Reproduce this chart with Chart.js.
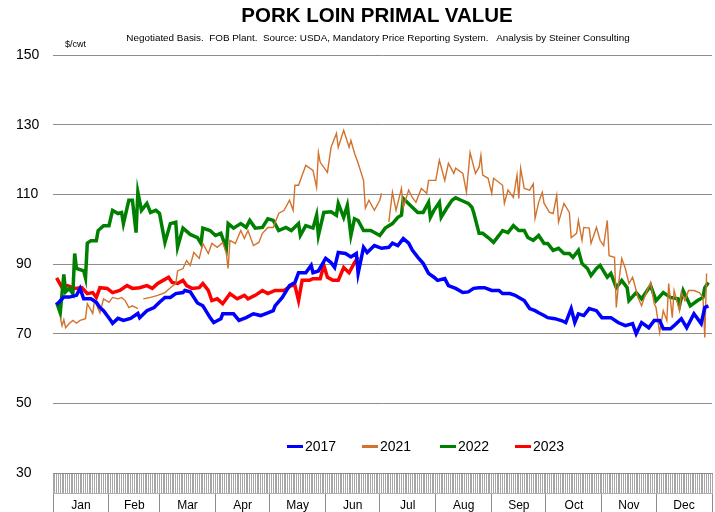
<!DOCTYPE html>
<html>
<head>
<script src="https://cdn.jsdelivr.net/npm/chart.js@4"></script>
<style>
  body { margin: 0; background: #fff; font-family: "Liberation Sans", Arial, sans-serif; }
  #wrap { position: relative; width: 715px; height: 512px; }
  .txt { position: absolute; white-space: nowrap; color: #000; }
  .leg { position: absolute; top: 438px; font-size: 14px; display: flex; align-items: center; }
  .leg span.sw { display: inline-block; width: 16px; height: 3px; margin-right: 2px; }
</style>
</head>
<body>
<div id="wrap">
  <canvas id="canvas" width="715" height="512"></canvas>
  <div class="txt" style="left:377px;top:3px;transform:translateX(-50%);font-weight:bold;font-size:20.5px;">PORK LOIN PRIMAL VALUE</div>
  <div class="txt" style="left:378px;top:32px;transform:translateX(-50%);font-size:9.9px;">Negotiated Basis.&nbsp; FOB Plant.&nbsp; Source: USDA, Mandatory Price Reporting System.&nbsp;&nbsp; Analysis by Steiner Consulting</div>
  <div class="txt" style="left:65px;top:39px;font-size:9px;">$/cwt</div>
  <div id="legend"></div>
</div>
<script>
// day of year for each reading, and the loin value on that day ($/cwt)
const days2017 = [2,6,9,13,15,17,21,24,26,28,32,33,36,39,43,47,48,52,56,59,62,65,68,72,73,76,80,83,87,89,93,94,97,100,103,107,111,115,119,122,123,127,131,134,136,140,143,144,147,151,154,156,158,162,165,168,169,172,174,178,182,186,188,191,194,197,199,202,205,208,211,213,217,219,223,227,230,233,236,239,243,247,249,253,256,258,261,264,267,269,272,274,278,282,284,287,289,291,294,297,301,304,309,313,317,321,323,326,330,333,336,338,342,344,348,351,355,359,361,363];
const loin2017 = [78.3,80.5,80.5,81,83,80,80,79,77.5,76.6,73.8,73,74.4,73.8,74.4,75.8,74.6,76.6,77.5,79,80.4,80.4,81.5,81.8,82.4,82,78.8,78,74.6,73.2,74.3,75.7,75.7,75.7,73.8,74.6,75.7,75.2,76,76.6,78,80.4,83.8,84.7,87.5,87.5,89.6,87.5,88,91.6,90.4,89,93.3,93,92,93,87.3,94.8,93.3,95.3,94.5,94.8,96,95.3,97.3,96,94,92,90.2,87.3,86.2,85.3,85.8,83.8,83,81.8,82,83,83.2,83.2,82.4,82.4,81.5,81.5,81,80.4,79.5,77.2,76.6,76,75.2,74.6,74.3,73.7,73.2,77.2,73.2,75.7,75.2,77.2,76.6,74.6,74.6,73.2,72.3,72.9,70,73.2,71.7,73.8,73.8,71.4,71.4,72.3,74.3,71.7,75.7,72.9,77.5,78];

const days2021 = [4,5,6,7,9,11,13,15,18,19,22,23,26,28,31,33,36,38,40,42,44,47,48,50,54,58,62,65,68,69,72,74,76,78,81,83,86,88,91,94,96,97,98,101,104,106,108,111,114,116,119,122,125,128,131,133,134,136,138,140,144,146,147,148,152,154,157,158,161,164,165,167,169,172,173,175,178,181,182,184,186,188,190,193,194,197,199,201,204,207,208,212,214,217,219,222,223,227,229,231,234,236,237,238,241,243,244,249,250,252,255,257,258,259,261,264,266,267,269,271,272,275,277,279,280,283,286,287,290,291,293,294,297,298,301,303,305,307,308,311,312,313,315,317,319,321,322,324,326,328,331,333,334,336,338,340,341,343,344,347,348,350,352,355,358,360,361,362];
const loin2021 = [74.6,72.3,74,71.7,72.9,73.8,73,73.8,74.3,78.6,75.8,79.5,76,80,79,80.4,80,80.4,79.5,77.5,78,77.2,null,80,80.4,81,81.8,83.2,84.4,88,88.7,91,89.6,93.3,91.6,95.9,93,95.9,94.8,96.2,93,88.7,96.8,95.9,99.6,97.3,99.6,95.3,96.2,98.8,100.5,100.5,104.5,105.4,108.3,105.4,112.6,112.6,115.5,118.3,116.9,112,122,119.2,116.3,123.5,127.5,123.5,128.4,123.5,125.5,121.8,118.9,114,106,108.3,105.4,108.3,110.3,null,102,110.6,105.4,111.7,106.3,111.2,109.1,107.7,111.7,110.3,114,114,119.8,114,118.9,116,117.5,116,110.6,122,116,117.8,121.2,115.5,114.6,110.3,114.6,112.6,107.4,111.2,109.1,115.5,108.8,117.5,111.7,111.2,113,103.1,107.7,110.6,107.4,104.8,104.5,109.7,102,107.4,104.8,97.6,98.8,102.5,96.8,100.5,100.3,95.9,100.5,96.8,95.3,102.5,92.4,91.9,77.5,83.2,91.6,88.7,84.4,86.2,84.4,80.4,78,81,84.7,78.6,77.5,70.3,76.6,73.8,84.4,74.6,82.4,76.6,81.8,79.5,82.4,82.4,81.8,80.4,68.9,87.3];

const days2022 = [2,4,6,7,9,11,12,13,17,18,19,21,24,25,28,31,33,36,38,39,42,44,46,47,49,52,54,57,59,62,65,68,69,72,76,80,82,83,87,90,93,96,97,100,104,107,109,112,116,119,122,125,129,132,136,137,140,144,146,147,150,154,157,158,161,163,165,167,169,172,176,181,184,188,191,193,194,198,202,205,208,209,211,214,215,218,221,223,226,230,232,233,236,238,241,244,247,249,252,255,258,261,263,266,269,272,274,277,280,283,286,288,291,293,296,298,301,303,307,309,312,315,318,319,323,326,331,334,338,342,346,347,349,353,357,360,361,363];
const loin2022 = [79,76,87,82,83,81.5,93,88.7,88,86,96,96.7,96.7,99.6,101,101,105.4,104.5,104.8,101.6,108.3,108.3,99,110.6,105.4,107.4,104.8,105.4,104.5,96.2,101.6,102,94.8,100.3,98.5,97.6,95.9,100.3,99.6,98.2,98.8,94.5,101.6,100.3,101.6,100.5,102.5,100.3,100.5,103,102.5,99.6,100.5,99.6,101.6,98.2,101,100.3,104,98.2,104.8,105,104,107.4,103.4,106.8,98.2,103,102.5,99.6,99.6,98.2,100.3,101.6,103.4,104,108.8,106.8,104.8,104.8,107.7,103.4,105.4,107.7,103.4,106,108.3,109,108.3,107.4,106.3,104.8,98.8,98.8,97.6,96.2,98.2,99.6,99,101,99.6,99.6,97.6,96.8,98.2,95.9,95.9,93.9,94.5,93,93,91.9,93.9,90.1,88.7,86.7,88.7,89.6,86.2,87.3,83.2,85.3,83.2,79.5,81.8,80,83.8,79.5,81.8,80.4,80,78,82.4,78,79.5,80.4,83.2,84.7];

const days2023 = [2,5,8,12,16,19,22,24,26,30,33,37,41,44,48,52,55,58,61,64,66,69,72,74,77,81,83,86,88,91,94,98,102,106,108,112,116,119,123,128,132,134,136,138,142,144,148,150,152,155,158,161,164,167,169];
const loin2023 = [86,83.2,83.8,83,83.2,81.5,81.8,80.4,83.2,83,81.8,82.4,83.8,83,83.2,83.8,83,84.4,85.3,86.2,84.7,84.4,85.3,83.8,83,83.2,84.4,82.4,79.5,80,78.6,81.5,80,81,80,81,82.4,81.5,82.4,82.4,83.8,83.8,79.5,85.3,85.3,85.8,85.8,89.6,86.2,85.3,85.3,89,87.5,90.4,92];

const seriesNames = ['2017', '2021', '2022', '2023'];
const seriesColors = ['#0000ff', '#d2722f', '#008000', '#ff0000'];
const seriesWidths = [3.5, 1.4, 3.5, 3.5];

const monthNames = ['Jan','Feb','Mar','Apr','May','Jun','Jul','Aug','Sep','Oct','Nov','Dec'];
const monthStarts = [0,31,59,90,120,151,181,212,243,273,304,334,365];
const yTicks = [30, 50, 70, 90, 110, 130, 150];

const monthMids = monthNames.map((m, i) => (monthStarts[i] + monthStarts[i + 1]) / 2);

function points(days, vals) {
  return days.map((d, i) => ({ x: d, y: vals[i] }));
}

const allDays = [days2017, days2021, days2022, days2023];
const allVals = [loin2017, loin2021, loin2022, loin2023];

const datasets = seriesNames.map((name, i) => ({
  label: name,
  data: points(allDays[i], allVals[i]),
  borderColor: seriesColors[i],
  backgroundColor: seriesColors[i],
  borderWidth: seriesWidths[i],
  pointRadius: 0,
  tension: 0,
  spanGaps: false,
}));

new Chart(document.getElementById('canvas'), {
  type: 'line',
  data: { datasets },
  options: {
    responsive: false,
    animation: false,
    events: [],
    layout: { padding: { left: 16, right: 3, top: 55, bottom: 0 } },
    plugins: { legend: { display: false }, tooltip: { enabled: false } },
    scales: {
      x: {
        type: 'linear',
        position: 'bottom',
        min: 0,
        max: 365,
        ticks: { display: false, stepSize: 1, autoSkip: false },
        grid: { drawOnChartArea: false, tickLength: 20, color: '#a6a6a6', lineWidth: 1 },
        border: { display: true, color: '#8c8c8c' },
        afterFit: (s) => { s.height = 20; },
      },
      x2: {
        type: 'linear',
        position: 'bottom',
        min: 0,
        max: 365,
        afterBuildTicks: (s) => {
          s.ticks = monthStarts.concat(monthMids).sort((a, b) => a - b).map((v) => ({ value: v }));
        },
        ticks: {
          autoSkip: false,
          maxRotation: 0,
          minRotation: 0,
          padding: -14,
          color: '#000',
          font: { family: '"Liberation Sans", Arial, sans-serif', size: 12 },
          callback: (v) => {
            const k = monthMids.indexOf(v);
            return k >= 0 ? monthNames[k] : '';
          },
        },
        grid: {
          drawOnChartArea: false,
          tickLength: 19,
          color: (ctx) => (ctx.tick && monthStarts.includes(ctx.tick.value) ? '#8c8c8c' : 'rgba(0,0,0,0)'),
        },
        border: { display: true, color: '#b0b0b0' },
        afterFit: (s) => { s.height = 19; },
      },
      y: {
        min: 30,
        max: 150,
        afterBuildTicks: (s) => { s.ticks = yTicks.map((v) => ({ value: v })); },
        ticks: {
          crossAlign: 'far',
          padding: 0,
          color: '#000',
          font: { family: '"Liberation Sans", Arial, sans-serif', size: 14 },
        },
        grid: { color: '#8c8c8c', lineWidth: 1, drawTicks: false },
        border: { display: false },
        afterFit: (s) => { s.width = 37; },
      },
    },
  },
});

// legend drawn inside the plot, as in the original
const legendX = [287, 362, 440, 515];
const legend = document.getElementById('legend');
seriesNames.forEach((name, i) => {
  const item = document.createElement('div');
  item.className = 'leg';
  item.style.left = legendX[i] + 'px';
  item.innerHTML = '<span class="sw" style="background:' + seriesColors[i] + '"></span>' + name;
  legend.appendChild(item);
});
</script>
</body>
</html>
